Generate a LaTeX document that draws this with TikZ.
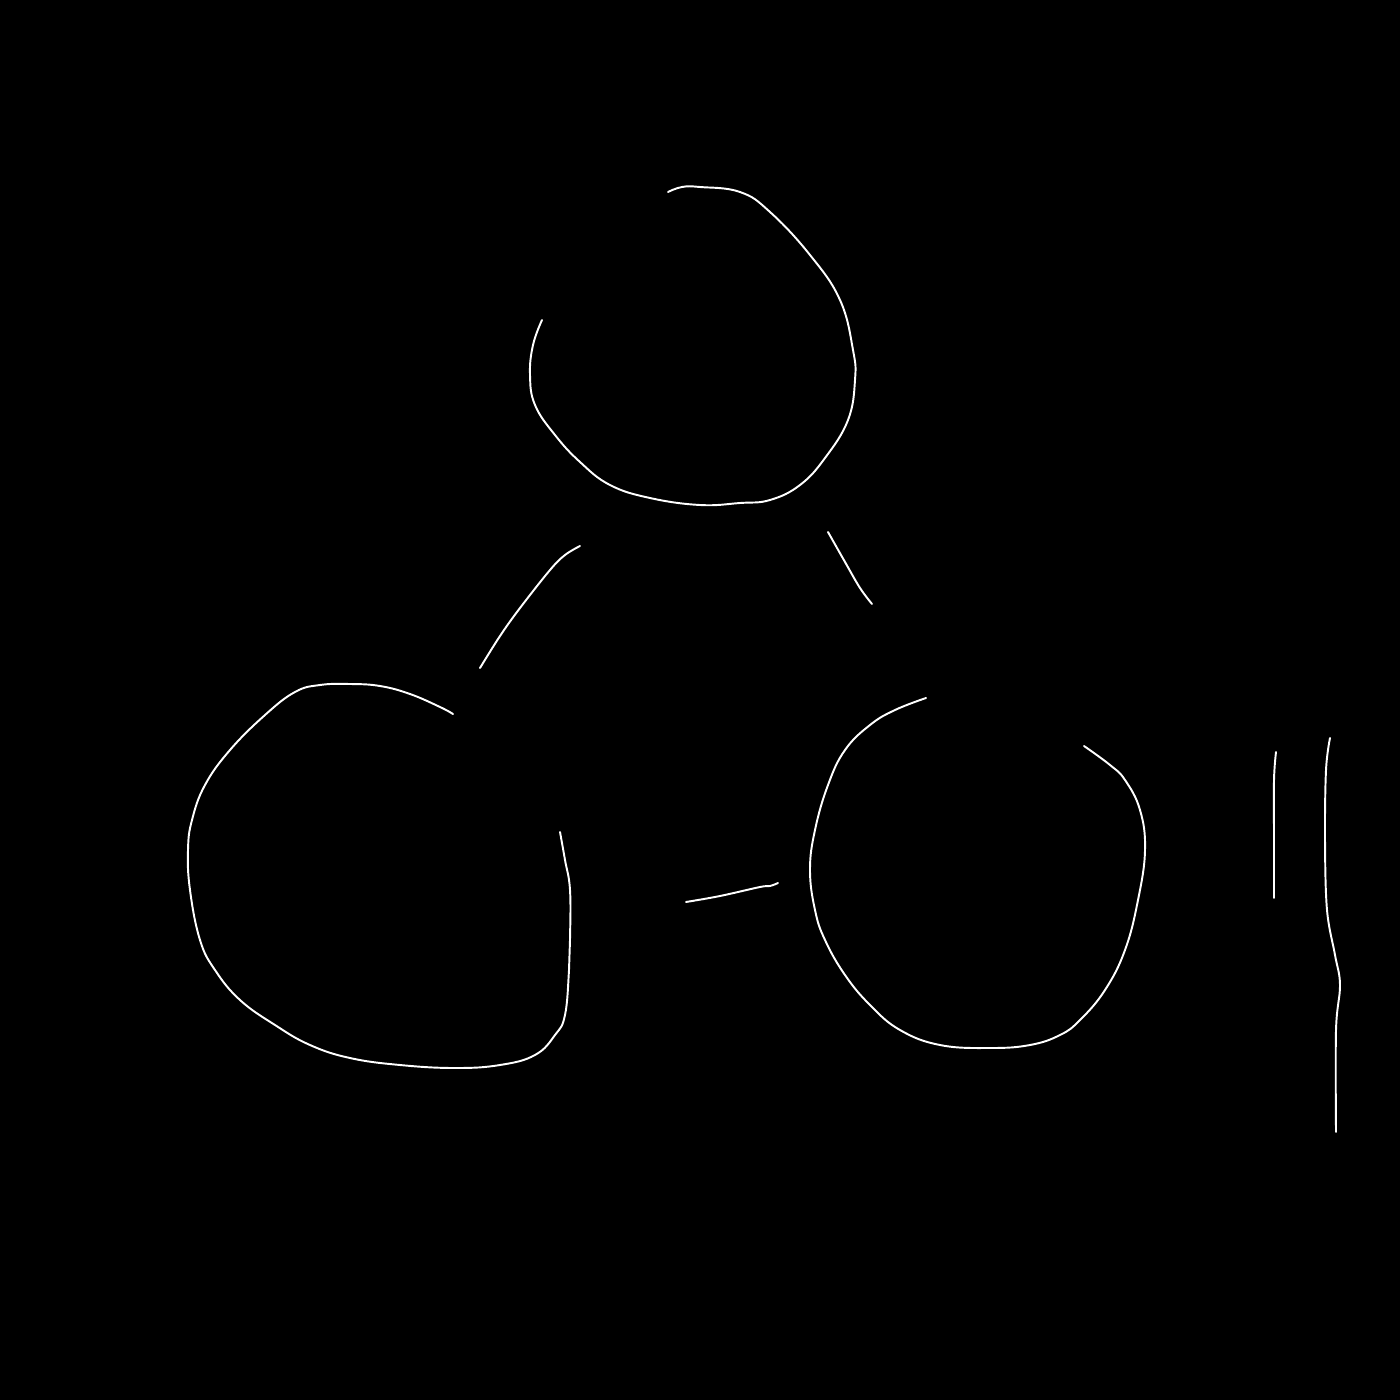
\documentclass[tikz,border=0pt]{standalone}
\begin{document}
\begin{tikzpicture}[x=0.01cm,y=-0.01cm,
  stroke/.style={draw=white,line width=0.55pt,line cap=round,line join=round}]
\fill[black] (0,0) rectangle (1400,1400);
\useasboundingbox (0,0) rectangle (1400,1400);
% top circle
\draw[stroke] plot[smooth,tension=0.7] coordinates {(668,192) (682,187) (700,187) (740,192) (770,212) (810,255) (840,300) (853,350) (855,380) (848,420) (825,458) (800,485) (770,500) (740,503) (700,505) (650,498) (610,485) (580,462) (555,435) (535,405) (530,375) (533,345) (542,320)};
% left circle
\draw[stroke] plot[smooth,tension=0.7] coordinates {(453,714) (440,707) (410,694) (380,686) (350,684) (320,685) (295,692) (265,715) (230,750) (205,785) (192,820) (188,850) (190,890) (200,940) (215,970) (240,1000) (275,1025) (310,1045) (350,1058) (400,1065) (455,1068) (500,1065) (535,1055) (555,1035) (565,1015) (569,970) (570,940) (570,890) (565,860) (560,832)};
% right circle
\draw[stroke] plot[smooth,tension=0.7] coordinates {(926,698) (895,710) (870,725) (845,750) (828,785) (815,830) (810,870) (815,910) (825,940) (845,975) (870,1005) (900,1030) (940,1045) (990,1048) (1030,1045) (1060,1035) (1080,1020) (1105,990) (1125,950) (1138,900) (1145,850) (1140,810) (1125,780) (1110,765) (1084,746)};
% connectors
\coordinate (tlA) at (580,546); \coordinate (tlB) at (480,668);
\coordinate (trA) at (828,532); \coordinate (trB) at (872,604);
\coordinate (lrA) at (686,902); \coordinate (lrB) at (778,883);
\draw[stroke] plot[smooth,tension=0.6] coordinates {(tlA) (565,555) (550,570) (520,608) (500,636) (tlB)};
\draw[stroke] plot[smooth,tension=0.6] coordinates {(trA) (845,562) (860,588) (trB)};
\draw[stroke] plot[smooth,tension=0.6] coordinates {(lrA) (720,896) (760,887) (770,886) (lrB)};
% right vertical strokes
\draw[stroke] plot[smooth,tension=0.6] coordinates {(1276,752) (1274,780) (1274,840) (1274,898)};
\draw[stroke] plot[smooth,tension=0.6] coordinates {(1330,738) (1326,770) (1325,840) (1327,910) (1335,955) (1340,985) (1336,1030) (1336,1132)};
\end{tikzpicture}
\end{document}
